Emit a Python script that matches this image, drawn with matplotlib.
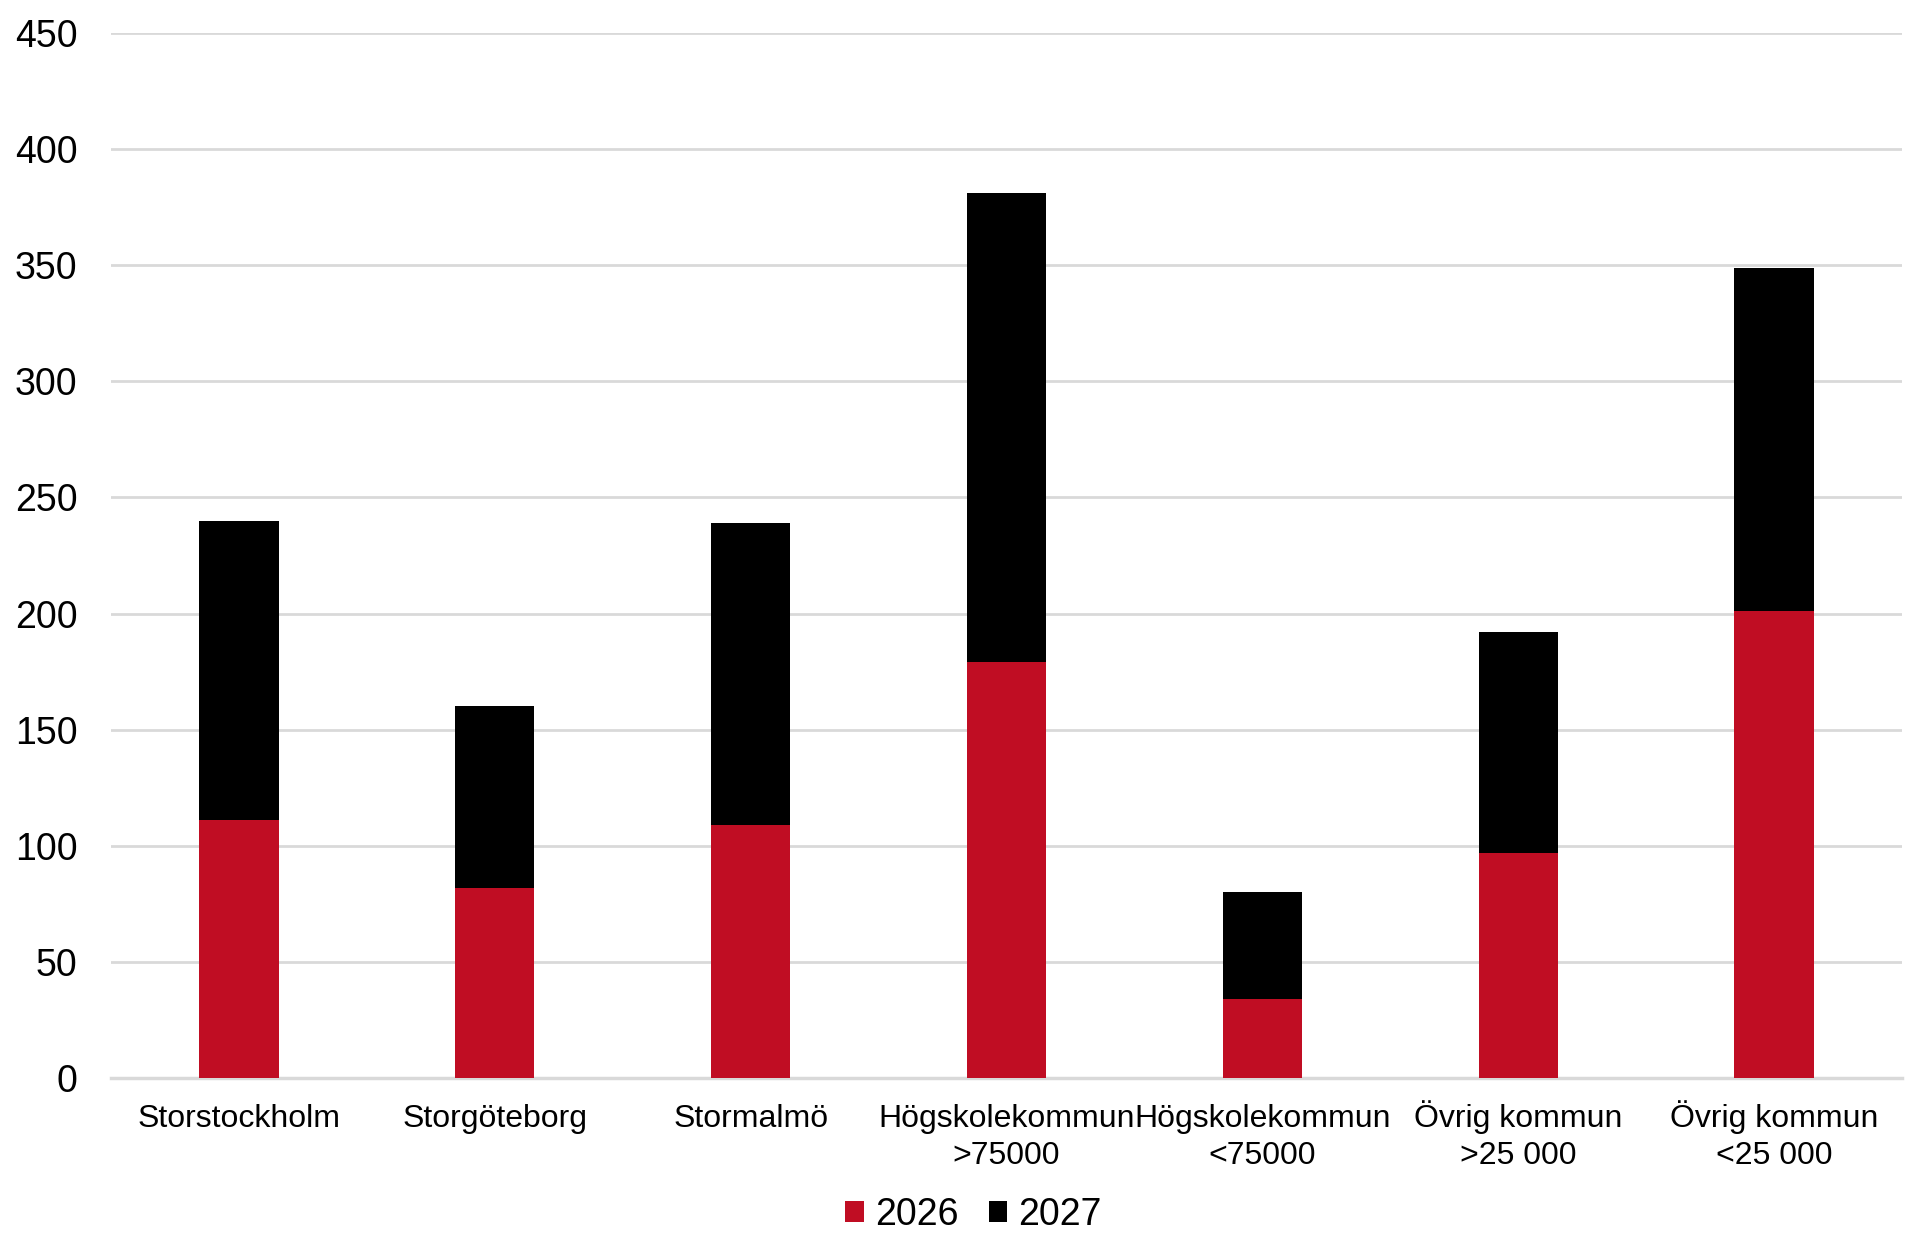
import numpy as np
import matplotlib.pyplot as plt

plt.rcParams['font.family'] = ['Liberation Sans', 'DejaVu Sans']

# Data
kategorier = ['Storstockholm', 'Storgöteborg', 'Stormalmö', 'Högskolekommun\n>75000',
              'Högskolekommun\n<75000', 'Övrig kommun\n>25 000', 'Övrig kommun\n<25 000']
v2026 = [111, 82, 109, 179, 34, 97, 201]
v2027 = [129, 78, 130, 202, 46, 95, 148]

x = np.arange(len(kategorier))

fig = plt.figure(figsize=(19.2, 12.51), dpi=100)
ax = fig.add_axes([0.0578, 0.1383, 0.9328, 0.8353])

ax.bar(x, v2026, width=0.31, color='#C00D23', label='2026', zorder=3)
ax.bar(x, v2027, width=0.31, bottom=v2026, color='#000000', label='2027', zorder=3)

ax.set_xlim(-0.5, len(kategorier) - 0.5)
ax.set_ylim(0, 450)
ax.set_yticks(np.arange(0, 451, 50))
ax.yaxis.grid(True, color='#D9D9D9', linewidth=2, zorder=0)
for s in ['top', 'right', 'left']:
    ax.spines[s].set_visible(False)
ax.spines['bottom'].set_color('#D9D9D9')
ax.spines['bottom'].set_linewidth(2.5)

# kategorietiketter, varje rad på egen baslinje
ax.set_xticks(x)
ax.set_xticklabels([])
ax.tick_params(axis='x', length=0)
trans = ax.get_xaxis_transform()
for xi, namn in zip(x, kategorier):
    for i, rad in enumerate(namn.split('\n')):
        ax.text(xi, -0.047 - 0.0355 * i, rad, transform=trans, ha='center',
                va='baseline', fontsize=23)

ax.tick_params(axis='y', length=0, labelsize=27, pad=24)

fig.legend(*ax.get_legend_handles_labels(), loc='center', bbox_to_anchor=(0.507, 0.029),
           ncol=2, frameon=False, fontsize=27, handlelength=0.5, handleheight=0.5,
           handletextpad=0.3, columnspacing=0.8)

plt.savefig('out.png', dpi=100)
